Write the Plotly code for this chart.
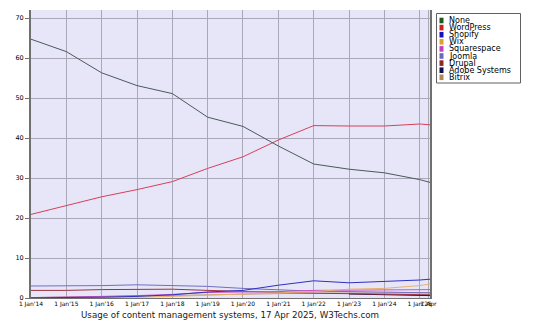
import plotly.graph_objects as go

dates = ["2014-01-01", "2015-01-01", "2016-01-01", "2017-01-01", "2018-01-01",
         "2019-01-01", "2020-01-01", "2021-01-01", "2022-01-01", "2023-01-01",
         "2024-01-01", "2025-01-01", "2025-04-17"]

none_v = [64.7, 61.6, 56.3, 53.1, 51.1, 45.2, 42.9, 38.0, 33.5, 32.2, 31.3, 29.6, 28.9]
wordpress = [20.9, 23.1, 25.3, 27.1, 29.1, 32.4, 35.3, 39.5, 43.1, 43.0, 43.0, 43.5, 43.3]
shopify = [0.05, 0.1, 0.2, 0.4, 0.8, 1.5, 1.9, 3.2, 4.3, 3.8, 4.1, 4.5, 4.7]
wix = [0.0, 0.05, 0.1, 0.2, 0.4, 0.7, 1.0, 1.3, 1.6, 2.2, 2.4, 3.1, 3.5]
squarespace = [0.1, 0.2, 0.4, 0.6, 0.9, 1.4, 1.5, 1.6, 1.9, 2.0, 2.0, 2.1, 2.1]
joomla = [3.0, 3.0, 3.1, 3.3, 3.1, 2.9, 2.4, 2.1, 1.7, 1.6, 1.5, 1.3, 1.3]
drupal = [1.9, 1.9, 2.1, 2.2, 2.2, 1.9, 1.6, 1.4, 1.2, 1.1, 0.9, 0.8, 0.8]
adobe = [None, None, None, None, None, None, None, None, None, 1.0, 0.8, 0.6, 0.6]
bitrix = [0.1, 0.2, 0.3, 0.4, 0.6, 0.8, 1.0, 1.1, 1.2, 1.2, 1.3, 1.3, 1.3]

names = ["None", "WordPress", "Shopify", "Wix", "Squarespace", "Joomla",
         "Drupal", "Adobe Systems", "Bitrix"]
series = [none_v, wordpress, shopify, wix, squarespace, joomla, drupal, adobe, bitrix]
legend_colors = ["#1d5a1d", "#cc2020", "#1010c0", "#e0a030", "#c040c0",
                 "#6868c0", "#902828", "#101050", "#b08858"]
line_colors = ["#4a5a5a", "#d8405a", "#3030c0", "#e8b070", "#c850c8",
               "#7070c0", "#a03040", "#101040", "#c09870"]

tick_vals = ["2014-01-01", "2015-01-01", "2016-01-01", "2017-01-01", "2018-01-01",
             "2019-01-01", "2020-01-01", "2021-01-01", "2022-01-01", "2023-01-01",
             "2024-01-01", "2025-01-01", "2025-04-01"]
tick_text = ["1 Jan'14", "1 Jan'15", "1 Jan'16", "1 Jan'17", "1 Jan'18", "1 Jan'19",
             "1 Jan'20", "1 Jan'21", "1 Jan'22", "1 Jan'23", "1 Jan'24", "1 Jan'25", "1 Apr"]
y_ticks = [0, 10, 20, 30, 40, 50, 60, 70]

title_text = "Usage of content management systems, 17 Apr 2025, W3Techs.com"

FONT = "DejaVu Sans"
W, H = 540, 326
L, R, T, B = 31, 110, 10, 28
pw, ph = W - L - R, H - T - B

def px(x):
    return (x - L) / pw

def py(y):
    return (H - B - y) / ph

fig = go.Figure()
order = [8, 7, 6, 5, 4, 3, 2, 1, 0]
for i in order:
    fig.add_trace(go.Scatter(x=dates, y=series[i], name=names[i], mode="lines",
                             line=dict(color=line_colors[i], width=1),
                             connectgaps=False, showlegend=False))

shapes = []
annotations = []
# legend box
shapes.append(dict(type="rect", xref="paper", yref="paper",
                   x0=px(436.5), x1=px(520.5), y0=py(83), y1=py(13.5),
                   line=dict(color="#606060", width=1), fillcolor="white"))
for k, nm in enumerate(names):
    cy = 20.5 + k * 7.1
    shapes.append(dict(type="rect", xref="paper", yref="paper",
                       x0=px(439.5), x1=px(443.5), y0=py(cy + 2.8), y1=py(cy - 2.8),
                       line=dict(width=0), fillcolor=legend_colors[k]))
    annotations.append(dict(text=nm, xref="paper", yref="paper", x=px(446.5), y=py(cy),
                            xanchor="left", yanchor="middle", showarrow=False,
                            font=dict(family=FONT, size=8, color="black")))
annotations.append(dict(text=title_text, xref="paper", yref="paper", x=px(229.5), y=py(315),
                        xanchor="center", yanchor="middle", showarrow=False,
                        font=dict(family=FONT, size=8.7, color="#202020")))

fig.update_layout(
    width=W, height=H,
    margin=dict(l=L, r=R, t=T, b=B, pad=0),
    paper_bgcolor="white",
    plot_bgcolor="#e6e6f8",
    font=dict(family=FONT, size=6, color="black"),
    shapes=shapes,
    annotations=annotations,
    xaxis=dict(type="date", range=["2014-01-01", "2025-04-17"],
               tickmode="array", tickvals=tick_vals, ticktext=tick_text,
               tickangle=0, showgrid=True, gridcolor="#a8a8b8", gridwidth=1,
               showline=True, linecolor="#707070", linewidth=1,
               ticks="", tickfont=dict(family=FONT, size=6), zeroline=False),
    yaxis=dict(range=[0, 72], tickmode="array", tickvals=y_ticks,
               showgrid=True, gridcolor="#a8a8b8", gridwidth=1,
               showline=True, linecolor="#707070", linewidth=2, mirror=True,
               ticks="outside", ticklen=4, tickcolor="#707070",
               tickfont=dict(family=FONT, size=6.5), zeroline=False),
)

fig.write_html("out.html")
